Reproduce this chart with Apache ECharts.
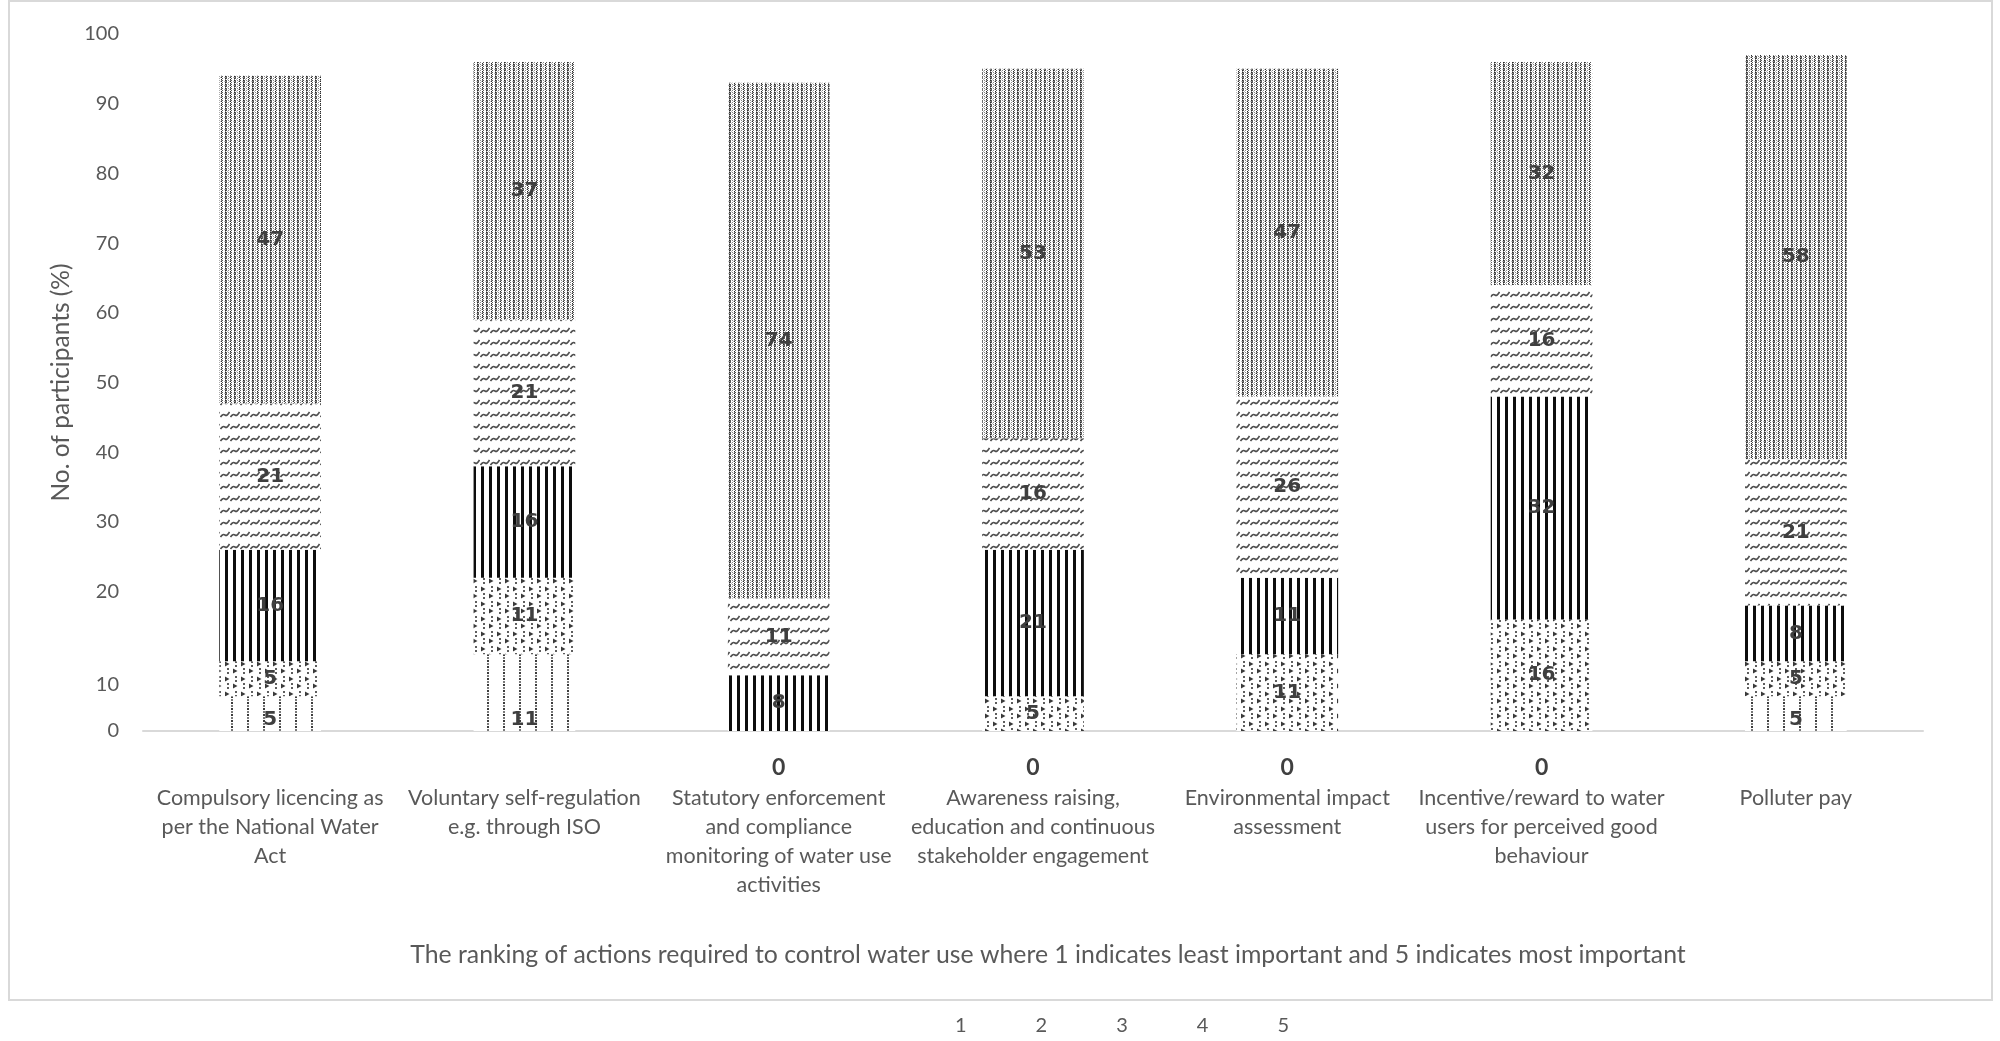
<!DOCTYPE html>
<html>
<head>
<meta charset="utf-8">
<script src="https://cdn.jsdelivr.net/npm/echarts@6/dist/echarts.min.js"></script>
<style>
  html, body { margin: 0; padding: 0; background: #ffffff; }
  #chart { width: 2000px; height: 1041px; }
</style>
</head>
<body>
<div id="chart"></div>
<script>
// Actions to control water use, ranked 1 (least important) to 5 (most important)
const categories = [
  'Compulsory licencing as\nper the National Water\nAct',
  'Voluntary self-regulation\ne.g. through ISO',
  'Statutory enforcement\nand compliance\nmonitoring of water use\nactivities',
  'Awareness raising,\neducation and continuous\nstakeholder engagement',
  'Environmental impact\nassessment',
  'Incentive/reward to water\nusers for perceived good\nbehaviour',
  'Polluter pay'
];
const seriesNames = ['1', '2', '3', '4', '5'];
// Share of participants (%) giving each rank
const rank1 = [5, 11, 0, 0, 0, 0, 5];
const rank2 = [5, 11, 0, 5, 11, 16, 5];
const rank3 = [16, 16, 8, 21, 11, 32, 8];
const rank4 = [21, 21, 11, 16, 26, 16, 21];
const rank5 = [47, 37, 74, 53, 47, 32, 58];
const yTicks = [0, 10, 20, 30, 40, 50, 60, 70, 80, 90, 100];

const FONT = 'Lato, "Open Sans", sans-serif';
const TEXT = '#595959';

function tile(w, h, draw) {
  const c = document.createElement('canvas');
  c.width = w; c.height = h;
  const g = c.getContext('2d');
  g.fillStyle = '#ffffff';
  g.fillRect(0, 0, w, h);
  draw(g);
  return { image: c, repeat: 'repeat' };
}
function px(g, color, cells) {
  g.fillStyle = color;
  cells.forEach(c => g.fillRect(c[0], c[1], c[2] || 1, c[3] || 1));
}

// rank 1: sparse columns of small stacked dots
const fill1 = tile(16, 6, g => {
  px(g, '#3c3c3c', [[7, 0, 2, 2]]);
  px(g, '#7a7a7a', [[7, 3, 2, 2]]);
});
// rank 2: small right-pointing triangles with colon dots, staggered rows
const fill2 = tile(16, 15, g => {
  function tri(x, y) {
    g.fillStyle = '#3a3a3a';
    g.beginPath(); g.moveTo(x, y - 2.5); g.lineTo(x + 4.5, y); g.lineTo(x, y + 2.5); g.closePath(); g.fill();
  }
  function colon(x, y) {
    px(g, '#5e5e5e', [[x, y - 3, 2, 2], [x, y + 1, 2, 2]]);
  }
  tri(1, 4); colon(11, 4);
  tri(9, 11); colon(3, 11);
});
// rank 3: bold vertical stripes
const fill3 = tile(8, 4, g => {
  px(g, '#0d0d0d', [[1, 0, 3, 4]]);
});
// rank 4: rows of small slanted wave marks
const fill4 = tile(10, 12, g => {
  g.strokeStyle = '#4f4f4f'; g.lineWidth = 1.6;
  g.beginPath();
  g.moveTo(0.5, 9); g.quadraticCurveTo(3, 5.5, 5, 7); g.quadraticCurveTo(7, 8.5, 9.5, 4);
  g.stroke();
});
// rank 5: dotted vertical columns with light gaps
const fill5 = tile(9, 4, g => {
  px(g, '#2a2a2a', [[0, 0], [0, 2], [5, 1], [5, 3]]);
  px(g, '#5c5c5c', [[1, 0], [1, 1], [1, 2], [6, 0], [6, 2]]);
  px(g, '#8a8a8a', [[0, 1], [0, 3], [3, 0], [3, 2], [5, 0]]);
  px(g, '#c0c0c0', [[8, 1], [4, 1], [2, 3]]);
});

const fills = [fill1, fill2, fill3, fill4, fill5];
const values = [rank1, rank2, rank3, rank4, rank5];

const labelBase = {
  show: true,
  color: '#3f3f3f',
  fontFamily: '"DejaVu Sans", sans-serif',
  fontWeight: 'bold',
  fontSize: 20
};

const series = values.map((vals, si) => ({
  name: seriesNames[si],
  type: 'bar',
  stack: 'rank',
  barWidth: '40%',
  itemStyle: { color: fills[si] },
  label: Object.assign({}, labelBase, {
    position: si === 0 ? 'insideBottom' : 'inside',
    distance: si === 0 ? 1 : 5,
    formatter: p => (p.value === 0 ? '' : String(p.value))
  }),
  data: vals.map(v => {
    if (si === 0 && v === 0) {
      // a zero share is written just below the axis
      return {
        value: v,
        label: {
          show: true, position: 'bottom', distance: 25,
          formatter: '0', color: '#404040',
          fontFamily: FONT, fontWeight: 'bold', fontSize: 23
        }
      };
    }
    return v;
  })
}));

const chart = echarts.init(document.getElementById('chart'), null, { renderer: 'canvas' });
chart.setOption({
  backgroundColor: '#ffffff',
  animation: false,
  grid: { left: 143, right: 77, top: 34, bottom: 310, containLabel: false },
  legend: {
    data: seriesNames,
    left: 920,
    top: 1011,
    itemGap: 39,
    itemWidth: 25,
    itemHeight: 14,
    itemStyle: { color: 'rgba(0,0,0,0)', borderWidth: 0 },
    textStyle: { color: TEXT, fontFamily: FONT, fontSize: 20 }
  },
  xAxis: {
    type: 'category',
    data: categories,
    name: 'The ranking of actions required to control water use where 1 indicates least important and 5 indicates most important',
    nameLocation: 'middle',
    nameGap: 212,
    nameTextStyle: { color: TEXT, fontFamily: FONT, fontSize: 24.8, padding: [0, 0, 0, 30] },
    axisLine: { lineStyle: { color: '#d9d9d9', width: 2 } },
    axisTick: { show: false },
    axisLabel: {
      interval: 0,
      margin: 53,
      color: TEXT,
      fontFamily: FONT,
      fontSize: 21.5,
      lineHeight: 29,
      align: 'center'
    }
  },
  yAxis: {
    type: 'value',
    min: yTicks[0],
    max: yTicks[yTicks.length - 1],
    interval: 10,
    name: 'No. of participants (%)',
    nameLocation: 'middle',
    nameGap: 68,
    nameTextStyle: { color: TEXT, fontFamily: FONT, fontSize: 24.5 },
    axisLine: { show: false },
    axisTick: { show: false },
    splitLine: { show: false },
    axisLabel: {
      margin: 24,
      color: TEXT,
      fontFamily: FONT,
      fontSize: 20,
      formatter: v => (v === 10 ? '{low|' + v + '}' : String(v)),
      rich: { low: { color: TEXT, fontFamily: FONT, fontSize: 20, padding: [46, 0, 0, 0] } }
    }
  },
  graphic: [{
    type: 'rect',
    shape: { x: 9, y: 1, width: 1983, height: 999 },
    style: { fill: 'none', stroke: '#d9d9d9', lineWidth: 2 },
    silent: true,
    z: -1
  }],
  series: series
});
</script>
</body>
</html>
